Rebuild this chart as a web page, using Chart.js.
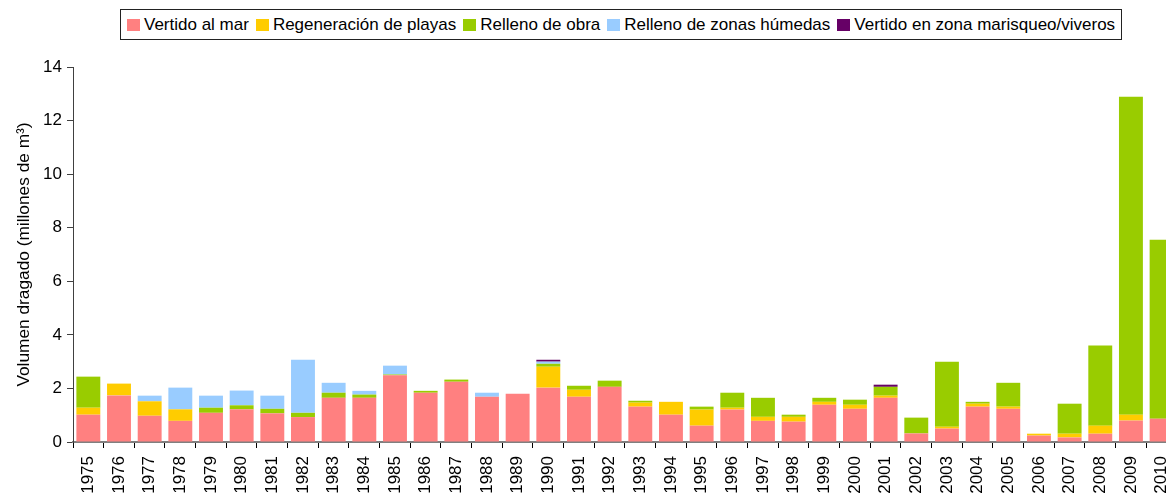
<!DOCTYPE html>
<html>
<head>
<meta charset="utf-8">
<script src="https://cdn.jsdelivr.net/npm/chart.js@4/dist/chart.umd.min.js"></script>
<style>
  html, body { margin: 0; padding: 0; background: #fff; overflow: hidden; width: 1166px; height: 494px; }
  #wrap { position: relative; width: 1190px; height: 494px; }
  #legend {
    position: absolute; left: 120px; top: 9px; height: 29px;
    border: 1px solid #222; background: #fff;
    display: flex; align-items: center; padding: 0 6px 0 6px;
    font-family: "Liberation Sans", Arial, sans-serif; font-size: 17px; color: #000;
    white-space: nowrap;
  }
  #legend .item { display: flex; align-items: center; margin-right: 7px; }
  #legend .item:last-child { margin-right: 0; }
  #legend .sw { width: 13px; height: 12px; margin-right: 4px; }
</style>
</head>
<body>
<div id="wrap">
  <canvas id="chart" width="1190" height="494"></canvas>
  <div id="legend"></div>
</div>
<script>
var years = ["1975","1976","1977","1978","1979","1980","1981","1982","1983","1984",
  "1985","1986","1987","1988","1989","1990","1991","1992","1993","1994",
  "1995","1996","1997","1998","1999","2000","2001","2002","2003","2004",
  "2005","2006","2007","2008","2009","2010"];

var vertidoMar = [1.02,1.74,0.98,0.79,1.09,1.22,1.07,0.93,1.65,1.65,
  2.49,1.84,2.25,1.69,1.80,2.03,1.69,2.06,1.32,1.02,
  0.61,1.21,0.79,0.76,1.39,1.24,1.65,0.32,0.50,1.32,
  1.24,0.24,0.17,0.31,0.80,0.87];

var regeneracion = [0.26,0.44,0.54,0.43,0,0,0,0,0,0,
  0,0,0,0,0,0.78,0.26,0,0.15,0.48,
  0.60,0.07,0.15,0.18,0.11,0.15,0.08,0,0.07,0.11,
  0.08,0.07,0.14,0.30,0.22,0];

var rellenoObra = [1.16,0,0,0,0.19,0.15,0.17,0.16,0.19,0.12,
  0.03,0.07,0.08,0,0,0.11,0.15,0.23,0.07,0,
  0.11,0.56,0.71,0.08,0.15,0.19,0.33,0.59,2.43,0.07,
  0.89,0,1.12,2.99,11.87,6.68];

var rellenoHumedas = [0,0,0.21,0.81,0.45,0.55,0.49,1.98,0.37,0.14,
  0.33,0,0,0.15,0,0.08,0,0,0,0,
  0,0,0,0,0,0,0,0,0,0,
  0,0,0,0,0,0];

var marisqueo = [0,0,0,0,0,0,0,0,0,0,
  0,0,0,0,0,0.07,0,0,0,0,
  0,0,0,0,0,0,0.08,0,0,0,
  0,0,0,0,0,0];

var yTicks = [0, 2, 4, 6, 8, 10, 12, 14];

var series = [
  { label: "Vertido al mar", data: vertidoMar, color: "#FF8080" },
  { label: "Regeneración de playas", data: regeneracion, color: "#FFCC00" },
  { label: "Relleno de obra", data: rellenoObra, color: "#99CC00" },
  { label: "Relleno de zonas húmedas", data: rellenoHumedas, color: "#99CCFF" },
  { label: "Vertido en zona marisqueo/viveros", data: marisqueo, color: "#660066" }
];

var font = "'Liberation Sans', Arial, sans-serif";

var chart = new Chart(document.getElementById("chart"), {
  type: "bar",
  data: {
    labels: years,
    datasets: series.map(function (s) {
      return {
        label: s.label,
        data: s.data,
        backgroundColor: s.color,
        borderWidth: 0,
        barPercentage: 0.78,
        categoryPercentage: 1.0
      };
    })
  },
  options: {
    responsive: false,
    animation: false,
    layout: { padding: { top: 67, right: 0, left: 0, bottom: 0 } },
    plugins: {
      legend: { display: false },
      tooltip: { enabled: false }
    },
    scales: {
      x: {
        stacked: true,
        afterFit: function (scale) { scale.height = 52; },
        grid: {
          offset: true,
          drawOnChartArea: false,
          drawTicks: true,
          tickLength: 6,
          tickColor: "#000"
        },
        border: { color: "#808080", width: 2 },
        ticks: {
          autoSkip: false,
          maxRotation: 90,
          minRotation: 90,
          padding: 8,
          color: "#000",
          font: { family: font, size: 17 }
        }
      },
      y: {
        stacked: true,
        min: 0,
        max: 14,
        afterFit: function (scale) { scale.width = 73; },
        afterBuildTicks: function (scale) {
          scale.ticks = yTicks.map(function (v) { return { value: v }; });
        },
        grid: {
          drawOnChartArea: false,
          drawTicks: true,
          tickLength: 6,
          tickColor: "#404040"
        },
        border: { color: "#404040", width: 1 },
        ticks: {
          padding: 5,
          color: "#000",
          font: { family: font, size: 17 }
        },
        title: {
          display: true,
          text: "Volumen dragado (millones de m³)",
          color: "#000",
          padding: { top: 14, bottom: 0 },
          font: { family: font, size: 17.3 }
        }
      }
    }
  }
});

var legend = document.getElementById("legend");
series.forEach(function (s) {
  var item = document.createElement("div");
  item.className = "item";
  var sw = document.createElement("span");
  sw.className = "sw";
  sw.style.background = s.color;
  var txt = document.createElement("span");
  txt.textContent = s.label;
  item.appendChild(sw);
  item.appendChild(txt);
  legend.appendChild(item);
});
</script>
</body>
</html>
